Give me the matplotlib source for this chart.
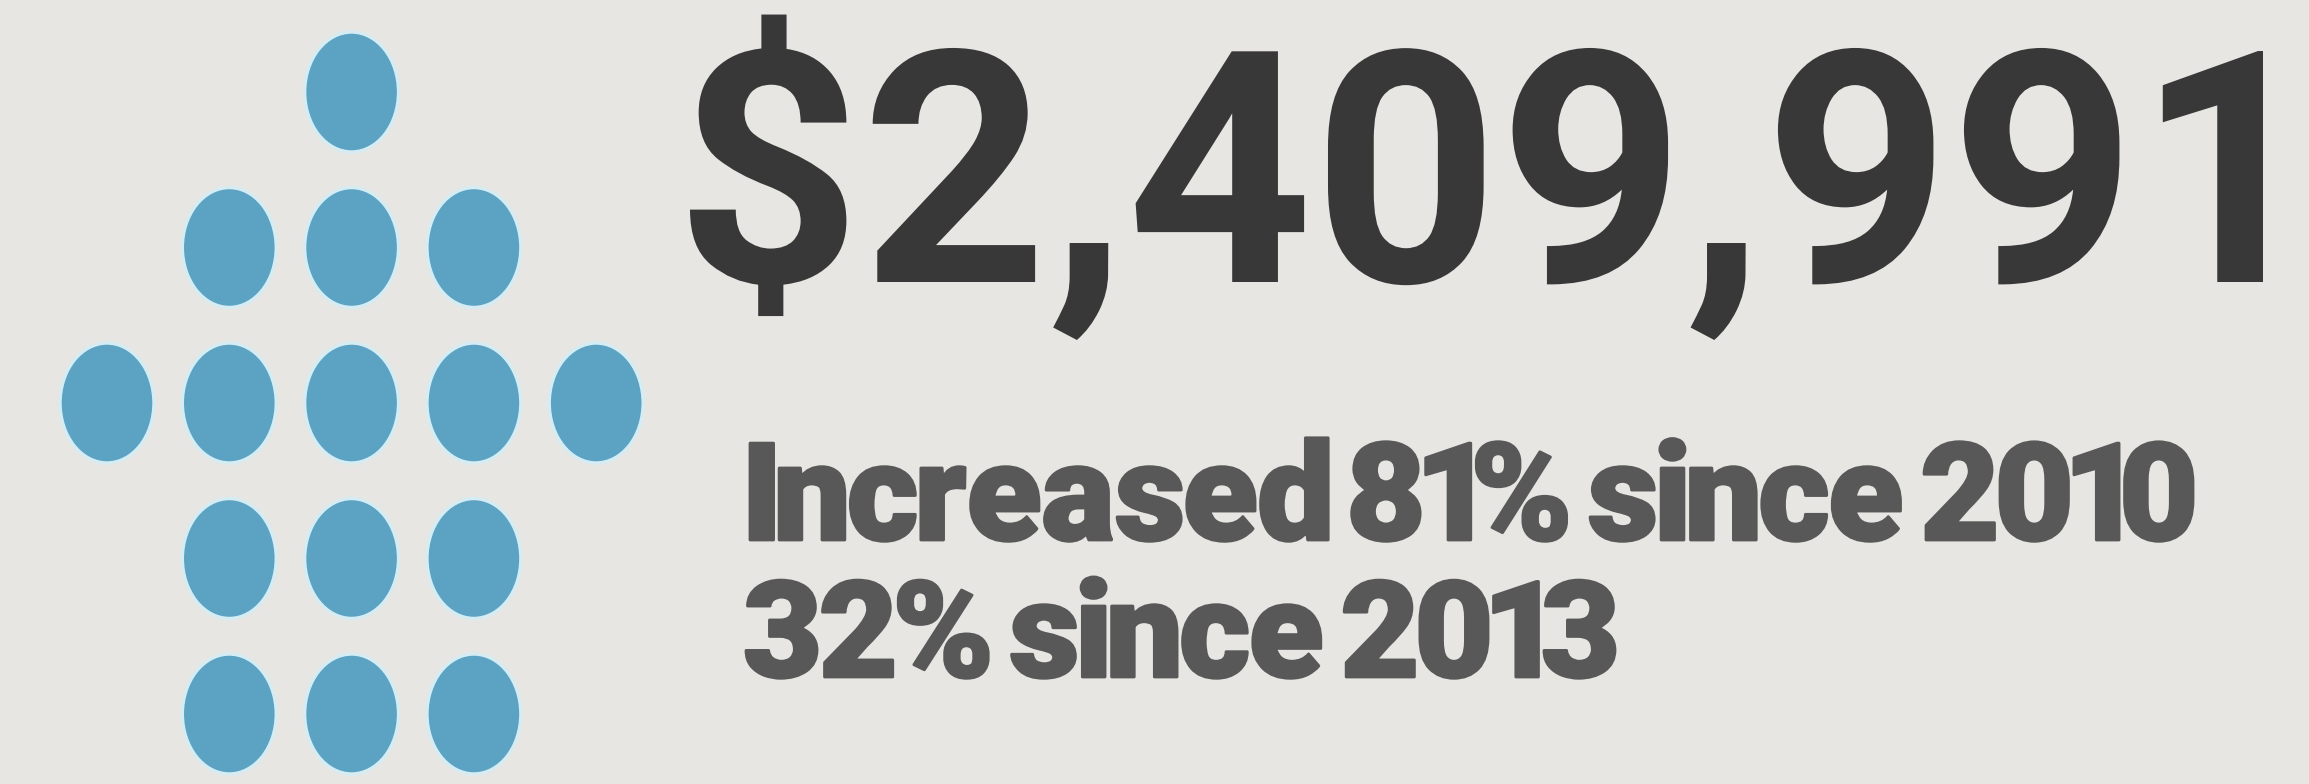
import matplotlib
matplotlib.use("Agg")
import matplotlib.pyplot as plt
from matplotlib import font_manager
from matplotlib.patches import Ellipse, PathPatch
from matplotlib.path import Path
from matplotlib.textpath import TextPath
from matplotlib.font_manager import FontProperties
from matplotlib.transforms import Affine2D

# arrow of dots: dots per row and the column of the first dot
row_counts = [1, 3, 5, 3, 3]
row_first_col = [2, 1, 0, 1, 1]

headline = "$2,409,991"
sub_lines = ["Increased 81% since 2010", "32% since 2013"]

bg = "#e7e6e2"
dot_color = "#5ba2c3"
head_color = "#383838"
sub_color = "#585858"


def heaviest(families):
    # pick the heaviest upright face among the listed families
    for fam in families:
        faces = [f for f in font_manager.fontManager.ttflist
                 if f.name == fam and f.style == "normal"]
        if faces:
            w = lambda f: f.weight if isinstance(f.weight, int) else 400
            best = max(faces, key=w)
            return FontProperties(fname=best.fname)
    return FontProperties(family="DejaVu Sans", weight="bold")


def tracked(s, prop, gap, space):
    # lay the letters out ink to ink, so the tracking is tight
    parts = []
    x = 0
    for ch in s:
        if ch == " ":
            x += space
            continue
        p = TextPath((0, 0), ch, size=100, prop=prop)
        e = p.get_extents()
        parts.append(Affine2D().translate(x - e.x0, 0).transform_path(p))
        x += e.width + gap
    return Path.make_compound_path(*parts)


def fit_path(ax, tp, ref, x0, x1, top, base, color, lw=0):
    # stretch path tp to span x0..x1, with ref (extents) reaching top..base
    ext = tp.get_extents()
    sx = (x1 - x0) / ext.width
    sy = (base - top) / ref.y1
    tr = Affine2D().translate(-ext.x0, 0).scale(sx, -sy).translate(x0, base)
    ax.add_patch(PathPatch(tr.transform_path(tp), fc=color,
                           ec=color if lw else "none", lw=lw, joinstyle="round"))


fig = plt.figure(figsize=(23.09, 7.84), dpi=100)
fig.patch.set_facecolor(bg)
ax = fig.add_axes([0, 0, 1, 1])
ax.set_xlim(0, 2309)
ax.set_ylim(784, 0)
ax.axis("off")

# dots
for r in range(len(row_counts)):
    for k in range(row_counts[r]):
        c = row_first_col[r] + k
        ax.add_patch(Ellipse((107 + c * 122.3, 92 + r * 155.5), 94, 120,
                             fc=dot_color, ec="#d6ecf3", lw=2.5))

head_font = FontProperties(family="Roboto", weight="bold")
sub_font = heaviest(["Roboto", "Lato", "Open Sans", "Noto Sans", "Inter"])

head_path = TextPath((0, 0), headline, size=100, prop=head_font)
head_ref = TextPath((0, 0), "1", size=100, prop=head_font).get_extents()
fit_path(ax, head_path, head_ref, 690, 2263, 51, 282, head_color)

x_ref = TextPath((0, 0), "x", size=100, prop=sub_font).get_extents()
fit_path(ax, tracked(sub_lines[0], sub_font, 4, 13), x_ref,
         750, 2193, 468, 540, sub_color, lw=2.0)
fit_path(ax, tracked(sub_lines[1], sub_font, 4, 13), x_ref,
         746, 1615, 606, 677, sub_color, lw=2.0)

fig.savefig("out.png", dpi=100, facecolor=bg)
